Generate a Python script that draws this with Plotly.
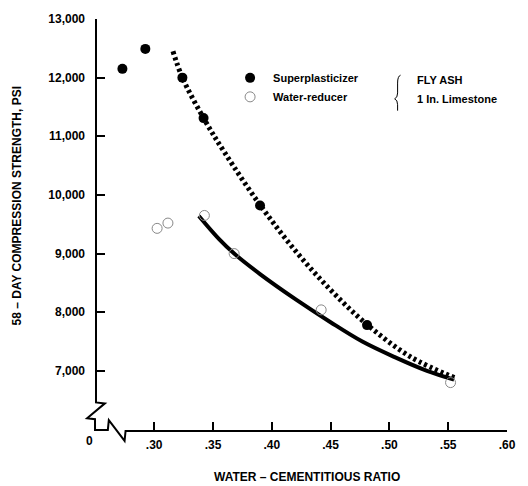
import plotly.graph_objects as go

# ---- data ----
sp_x = [0.273, 0.2925, 0.324, 0.342, 0.390, 0.481]          # Superplasticizer (filled)
sp_y = [12150, 12490, 12000, 11310, 9820, 7780]
wr_x = [0.3025, 0.3117, 0.3427, 0.368, 0.442, 0.552]        # Water-reducer (open)
wr_y = [9430, 9520, 9650, 9000, 8040, 6800]
dot_x = [0.316, 0.324, 0.342, 0.36, 0.39, 0.42, 0.45, 0.481, 0.518, 0.557]   # dotted fit
dot_y = [12450, 12000, 11310, 10720, 9830, 9050, 8380, 7790, 7240, 6870]
sol_x = [0.338, 0.355, 0.368, 0.39, 0.421, 0.45, 0.477, 0.505, 0.532, 0.555]  # solid fit
sol_y = [9640, 9250, 9000, 8650, 8210, 7830, 7500, 7230, 7000, 6850]
x_ticks = [0.30, 0.35, 0.40, 0.45, 0.50, 0.55, 0.60]
x_ticktext = [".30", ".35", ".40", ".45", ".50", ".55", ".60"]
y_ticks = [7000, 8000, 9000, 10000, 11000, 12000, 13000]

W, H = 528, 486
L, R, T, B = 96, 15, 13, 56
PW, PH = W - L - R, H - T - B

def px(xp):
    return (xp - L) / PW

def py(yp):
    return (H - B - yp) / PH

def path(pts):
    return "M " + " L ".join(f"{px(a):.5f},{py(b):.5f}" for a, b in pts)

FONT = "Liberation Sans, Arial, sans-serif"

fig = go.Figure()
fig.add_trace(go.Scatter(x=dot_x, y=dot_y, mode="lines", line=dict(color="black", width=5, dash="3px,3px", shape="spline"),
                         showlegend=False, hoverinfo="skip"))
fig.add_trace(go.Scatter(x=sol_x, y=sol_y, mode="lines", line=dict(color="black", width=4, shape="spline"),
                         showlegend=False, hoverinfo="skip"))
fig.add_trace(go.Scatter(x=sp_x, y=sp_y, mode="markers", name="Superplasticizer",
                         marker=dict(symbol="circle", size=10, color="black"), cliponaxis=False))
fig.add_trace(go.Scatter(x=wr_x, y=wr_y, mode="markers", name="Water-reducer",
                         marker=dict(symbol="circle-open", size=10, color="#888", line=dict(width=1, color="#888")),
                         cliponaxis=False))

shapes = []
# y axis with break
shapes.append(dict(type="path", xref="paper", yref="paper",
                   path=path([(96, 13), (96, 402), (105, 403), (87, 418), (95, 419), (95, 430),
                              (108, 430), (109, 420), (125, 441), (126, 431), (513, 431)]),
                   line=dict(color="black", width=2)))
# brace in legend
shapes.append(dict(type="path", xref="paper", yref="paper",
                   path=(f"M {px(405):.5f},{py(70):.5f} Q {px(402):.5f},{py(71):.5f} {px(402):.5f},{py(78):.5f} "
                         f"L {px(402):.5f},{py(88):.5f} Q {px(402):.5f},{py(93):.5f} {px(399):.5f},{py(94):.5f} "
                         f"Q {px(402):.5f},{py(95):.5f} {px(402):.5f},{py(100):.5f} L {px(402):.5f},{py(106):.5f}"),
                   line=dict(color="black", width=1)))

ann = []
ann.append(dict(text="FLY ASH", x=px(420), y=py(75), xref="paper", yref="paper", xanchor="left", yanchor="middle",
                showarrow=False, font=dict(family=FONT, size=11, color="black", weight="bold")))
ann.append(dict(text="1 In. Limestone", x=px(420), y=py(94), xref="paper", yref="paper", xanchor="left", yanchor="middle",
                showarrow=False, font=dict(family=FONT, size=11, color="black", weight="bold")))
ann.append(dict(text="0", x=px(89), y=py(441), xref="paper", yref="paper", xanchor="center", yanchor="middle",
                showarrow=False, font=dict(family=FONT, size=12, color="black", weight="bold")))
ann.append(dict(text="58 \u2013 DAY COMPRESSION STRENGTH, PSI", x=px(16), y=py(203), xref="paper", yref="paper",
                xanchor="center", yanchor="middle", textangle=-90, showarrow=False,
                font=dict(family=FONT, size=12, color="black", weight="bold")))
ann.append(dict(text="WATER \u2013 CEMENTITIOUS RATIO", x=px(310), y=py(478), xref="paper", yref="paper",
                xanchor="center", yanchor="middle", showarrow=False,
                font=dict(family=FONT, size=12, color="black", weight="bold")))

fig.update_layout(
    width=W, height=H, margin=dict(l=L, r=R, t=T, b=B),
    paper_bgcolor="white", plot_bgcolor="white",
    shapes=shapes, annotations=ann,
    showlegend=True,
    legend=dict(x=px(229), y=py(58), xanchor="left", yanchor="top", bgcolor="rgba(0,0,0,0)",
                font=dict(family=FONT, size=11, color="black", weight="bold"), tracegroupgap=0,
                itemwidth=36),
    xaxis=dict(range=[0.30 - 59 / 1193, 0.60], showgrid=False, zeroline=False, showline=False,
               tickvals=x_ticks, ticktext=x_ticktext, ticks="inside", ticklen=8, tickwidth=2, tickcolor="black",
               ticklabelstandoff=6,
               tickfont=dict(family=FONT, size=12, color="black", weight="bold")),
    yaxis=dict(range=[7000 - 60 / 0.0595, 13000], showgrid=False, zeroline=False, showline=False,
               tickvals=y_ticks, tickformat=",d", ticks="inside", ticklen=9, tickwidth=2, tickcolor="black",
               ticklabelstandoff=10,
               tickfont=dict(family=FONT, size=12, color="black", weight="bold")),
)

fig.write_html("out.html")
